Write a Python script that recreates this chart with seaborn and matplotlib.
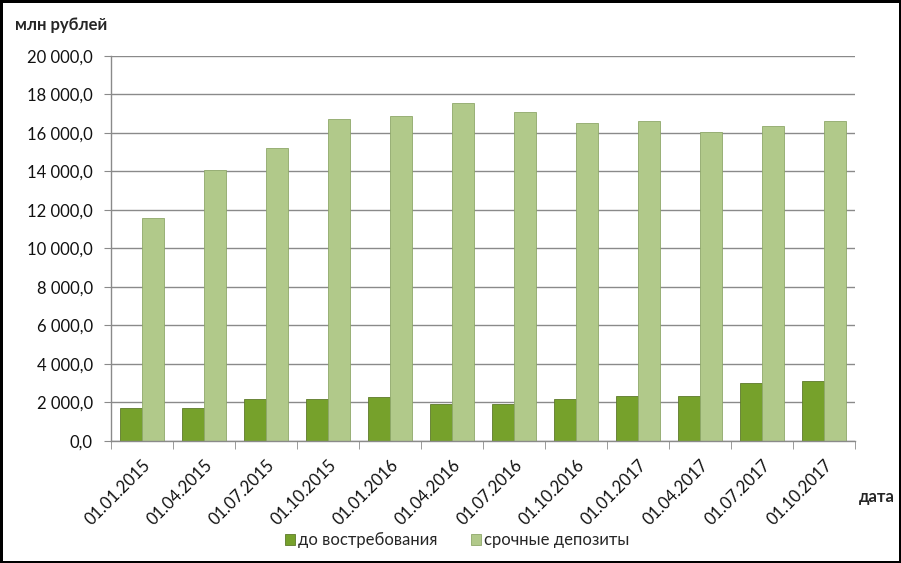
import matplotlib
matplotlib.use("Agg")
import matplotlib.pyplot as plt
import seaborn as sns
import pandas as pd
import numpy as np
from matplotlib.ticker import FuncFormatter, FixedLocator

dates = ["01.01.2015", "01.04.2015", "01.07.2015", "01.10.2015", "01.01.2016", "01.04.2016",
         "01.07.2016", "01.10.2016", "01.01.2017", "01.04.2017", "01.07.2017", "01.10.2017"]
demand = [1700, 1700, 2200, 2200, 2300, 1900, 1900, 2200, 2350, 2350, 3000, 3100]
term = [11600, 14100, 15200, 16700, 16900, 17550, 17100, 16500, 16600, 16050, 16350, 16600]
series_names = ["до востребования", "срочные депозиты"]
colors = ["#76a12b", "#b1c98a"]

df = pd.DataFrame({
    "date": dates * 2,
    "value": demand + term,
    "series": [series_names[0]] * len(dates) + [series_names[1]] * len(dates),
})

sns.set_style("white")
plt.rcParams["font.family"] = ["Lato", "DejaVu Sans"]

fig = plt.figure(figsize=(9.01, 5.63), dpi=100)
ax = fig.add_axes([0.123, 0.2167, 0.826, 0.684])

sns.barplot(data=df, x="date", y="value", hue="series", palette=colors, width=0.71,
            ax=ax, saturation=1, edgecolor="none", legend=True)

for i, p in enumerate(ax.patches):
    p.set_edgecolor("#5d7a2a" if p.get_facecolor()[1] < 0.7 else "#8fa86a")
    p.set_linewidth(0.6)

ax.set_ylim(0, 20000)
ax.set_xlim(-0.5, len(dates) - 0.5)
ax.set_yticks(np.arange(0, 20001, 2000))
ax.yaxis.set_major_formatter(FuncFormatter(lambda v, p: f"{v:,.1f}".replace(",", " ").replace(".", ",")))
ax.grid(axis="y", color="#8a8a8a", linewidth=1.0)
ax.set_axisbelow(True)
for s in ["top", "right"]:
    ax.spines[s].set_visible(False)
for s in ["left", "bottom"]:
    ax.spines[s].set_color("#8a8a8a")
    ax.spines[s].set_linewidth(1.0)

ax.tick_params(axis="y", left=True, length=5, color="#8a8a8a", labelsize=12, pad=8, labelcolor="#111111")
ax.set_xticks(range(len(dates)))
ax.set_xticklabels(dates, rotation=45, ha="right", rotation_mode="anchor", fontsize=12, color="#111111")
ax.tick_params(axis="x", bottom=False, pad=8)
ax.xaxis.set_minor_locator(FixedLocator(np.arange(-0.5, len(dates), 1)))
ax.tick_params(axis="x", which="minor", bottom=True, length=6, color="#8a8a8a")
ax.set_xlabel("")
ax.set_ylabel("")

leg = ax.legend(loc="center", bbox_to_anchor=(0.465, -0.258), ncol=2, frameon=False,
                fontsize=12, handlelength=0.6, handleheight=0.6, handletextpad=0.2, columnspacing=2.0)

fig.text(0.017, 0.955, "млн рублей", fontsize=12, fontweight="bold", ha="left", va="center")
fig.text(0.953, 0.117, "дата", fontsize=12, fontweight="bold", ha="left", va="center")

fig.patch.set_edgecolor("black")
fig.patch.set_linewidth(2.5)

fig.savefig("out.png", dpi=100, edgecolor=fig.get_edgecolor())
